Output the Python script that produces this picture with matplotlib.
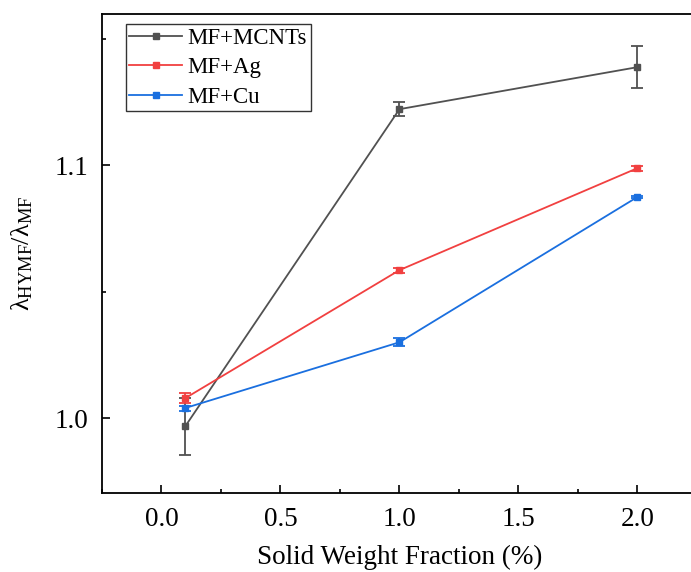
import numpy as np
import matplotlib
matplotlib.use("Agg")
import matplotlib.pyplot as plt
from matplotlib.lines import Line2D
from matplotlib.ticker import MultipleLocator

plt.rcParams["font.family"] = ["Liberation Serif", "DejaVu Serif"]
plt.rcParams["mathtext.fontset"] = "custom"
plt.rcParams["mathtext.rm"] = "Liberation Serif"
plt.rcParams["mathtext.default"] = "regular"

# data
fraction = [0.1, 1.0, 2.0]
labels = ["MF+MCNTs", "MF+Ag", "MF+Cu"]
mcnts = [0.9968, 1.1221, 1.1387]
mcnts_err = [0.0112, 0.0028, 0.0083]
ag = [1.0079, 1.0585, 1.0988]
ag_err = [0.0020, 0.0010, 0.0010]
cu = [1.0040, 1.0300, 1.0874]
cu_err = [0.0010, 0.0015, 0.0005]

colors = ["#515151", "#F14040", "#1A6FDF"]

fig = plt.figure(figsize=(6.91, 5.72), dpi=100)
ax = fig.add_axes([0.1476, 0.138, 0.861, 0.8375])

handles = []
for y, err, lab, c in zip([mcnts, ag, cu], [mcnts_err, ag_err, cu_err], labels, colors):
    ax.errorbar(fraction, y, yerr=err, color=c, marker="s", markersize=5,
                linewidth=1.3, elinewidth=1.3, capsize=4.5, capthick=1.3)
    handles.append(Line2D([], [], color=c, marker="s", markersize=5, linewidth=1.3))

ax.set_xlim(-0.25, 2.25)
ax.set_ylim(0.9704, 1.1597)
ax.xaxis.set_major_locator(MultipleLocator(0.5))
ax.xaxis.set_minor_locator(MultipleLocator(0.25))
ax.yaxis.set_major_locator(MultipleLocator(0.1))
ax.yaxis.set_minor_locator(MultipleLocator(0.05))
ax.tick_params(which="both", direction="in", labelsize=19.5, width=1.2)
ax.tick_params(which="major", length=6, pad=10)
ax.tick_params(which="minor", length=3)
for s in ax.spines.values():
    s.set_linewidth(1.3)
ax.spines["right"].set_visible(False)

ax.set_xlabel("Solid Weight Fraction (%)", fontsize=19.5, labelpad=9)
ax.set_ylabel(r"λ$_{HYMF}$/λ$_{MF}$", fontsize=19, labelpad=14)

leg = ax.legend(handles, labels, loc="upper left", bbox_to_anchor=(0.040, 0.979),
                fontsize=16.5, frameon=True, fancybox=False, edgecolor="black",
                handlelength=2.3, borderpad=0.15, labelspacing=0.37, handletextpad=0.25,
                borderaxespad=0)
leg.get_frame().set_linewidth(1.0)

fig.savefig("out.png", dpi=100)
